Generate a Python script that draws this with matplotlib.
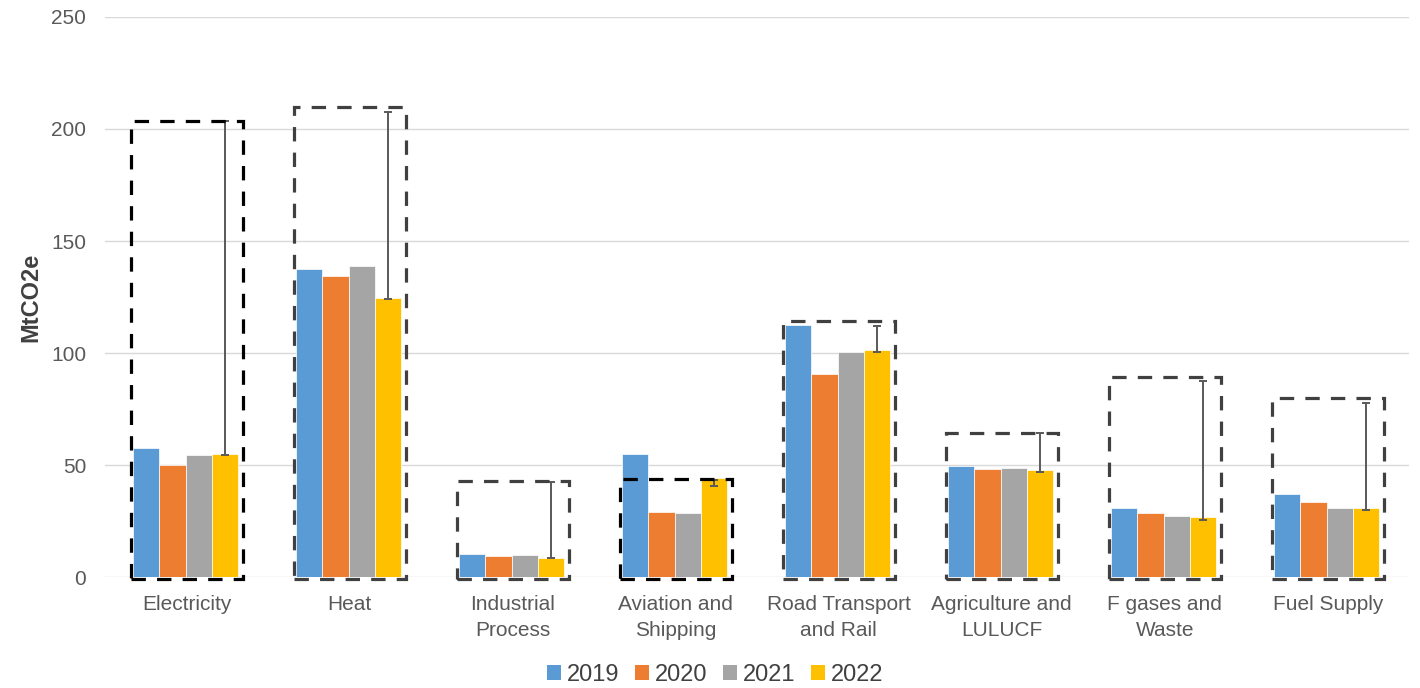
import matplotlib
matplotlib.use("Agg")
import matplotlib.pyplot as plt
from matplotlib.patches import Rectangle, Patch
import numpy as np

plt.rcParams['font.family'] = ['Liberation Sans', 'DejaVu Sans']

categories = ["Electricity", "Heat", "Industrial\nProcess", "Aviation and\nShipping",
              "Road Transport\nand Rail", "Agriculture and\nLULUCF", "F gases and\nWaste", "Fuel Supply"]
years = ["2019", "2020", "2021", "2022"]
v2019 = [57.7, 137.7, 10.2, 55.0, 112.6, 49.7, 30.6, 37.2]
v2020 = [50.0, 134.6, 9.5, 29.0, 90.8, 48.2, 28.4, 33.7]
v2021 = [54.4, 138.8, 9.9, 28.7, 100.4, 48.8, 27.3, 31.0]
v2022 = [54.7, 124.7, 8.6, 44.0, 101.5, 47.8, 26.6, 30.7]
err_lo = [54.5, 124.0, 8.5, 40.5, 100.6, 47.0, 25.5, 29.9]
err_hi = [203.7, 207.7, 42.2, 43.5, 112.0, 64.1, 87.3, 77.6]
box_top = [203.7, 209.7, 42.8, 43.6, 114.2, 64.5, 89.1, 80.1]
box_black = [True, False, False, True, False, False, False, False]

colors = ["#5B9BD5", "#ED7D31", "#A5A5A5", "#FFC000"]

fig = plt.figure(figsize=(14.2, 6.88), dpi=100)
ax = fig.add_axes([0.0741, 0.1613, 0.9183, 0.814])

x = np.arange(len(categories))
bw = 0.161
offsets = [-1.5, -0.5, 0.5, 1.5]
series = [v2019, v2020, v2021, v2022]
for s, vals, c, off in zip(years, series, colors, offsets):
    ax.bar(x - 0.007 + off * bw, vals, width=bw, color=c, edgecolor="white",
           linewidth=0.5, zorder=3, label=s)

# error bars on 2022
xe = x - 0.007 + 1.5 * bw
lo = np.array(err_lo)
hi = np.array(err_hi)
ax.errorbar(xe, lo, yerr=[np.zeros_like(lo), hi - lo], fmt='none',
            ecolor="#595959", elinewidth=1.4, capsize=3, capthick=1.4, zorder=5)

# dashed boxes
for xi, top, blk in zip(x, box_top, box_black):
    col = "#000000" if blk else "#404040"
    r = Rectangle((xi - 0.343, -1.0), 0.686, top + 1.0, fill=False,
                  edgecolor=col, linewidth=2.3, linestyle=(0, (4.5, 3.5)),
                  clip_on=False, zorder=6, joinstyle='miter')
    ax.add_patch(r)

ax.set_xlim(-0.5, len(categories) - 0.5)
ax.set_ylim(0, 250)
ax.set_yticks([0, 50, 100, 150, 200, 250])
ax.yaxis.grid(True, color="#D9D9D9", linewidth=1.0, zorder=0)
ax.set_axisbelow(True)
for sp in ax.spines.values():
    sp.set_visible(False)
ax.set_xticks(x)
ax.set_xticklabels(categories, fontsize=15, color="#595959", linespacing=1.45)
ax.tick_params(axis='x', length=0, pad=13)
ax.tick_params(axis='y', length=0, pad=13.7, labelsize=15, labelcolor="#595959")
ax.set_ylabel("MtCO2e", fontsize=17, fontweight='bold', color="#404040")
ax.yaxis.set_label_coords(-0.0485, 0.5)

handles = [Patch(facecolor=c, edgecolor='none') for c in colors]
fig.legend(handles, years, loc='center', bbox_to_anchor=(0.5035, 0.019), ncol=4,
           frameon=False, fontsize=17, handlelength=0.6, handleheight=0.6,
           handletextpad=0.25, columnspacing=0.65, labelcolor="#404040")

fig.savefig("out.png", dpi=100)
